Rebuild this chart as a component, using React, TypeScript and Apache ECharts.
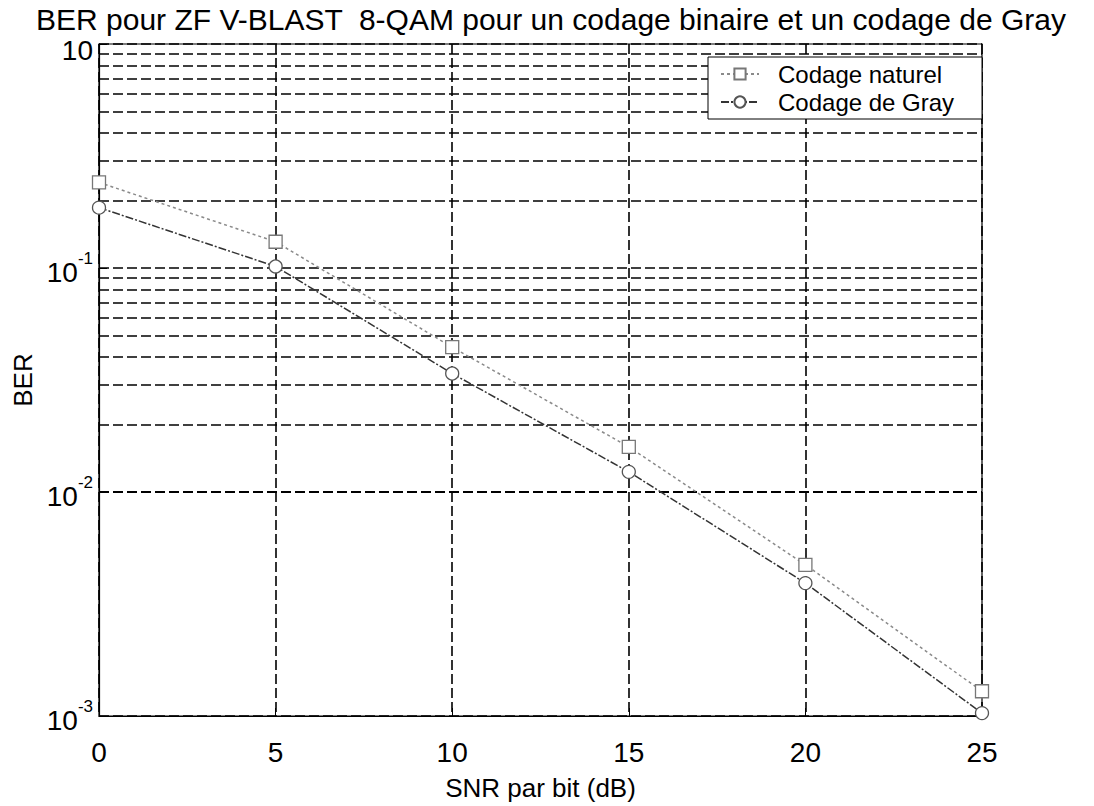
import React, { useEffect, useRef } from 'react';
import * as echarts from 'echarts';

const SNR = [0, 5, 10, 15, 20, 25];
const BER_NATUREL = [0.241, 0.131, 0.0443, 0.0159, 0.00473, 0.00129];
const BER_GRAY = [0.186, 0.1016, 0.0338, 0.0123, 0.00392, 0.00103];
const SERIES_NAMES = ['Codage naturel', 'Codage de Gray'];
const MINOR_GRID = [
  0.002, 0.003, 0.004, 0.005, 0.006, 0.007, 0.008, 0.009,
  0.02, 0.03, 0.04, 0.05, 0.06, 0.07, 0.08, 0.09,
  0.2, 0.3, 0.4, 0.5, 0.6, 0.7, 0.8, 0.9,
];
const TITLE = 'BER pour ZF V-BLAST  8-QAM pour un codage binaire et un codage de Gray';
const X_NAME = 'SNR par bit (dB)';
const Y_NAME = 'BER';

const FONT = "'Liberation Sans', Arial, sans-serif";

export default function App() {
  const ref = useRef<HTMLDivElement>(null);
  useEffect(() => {
    if (!ref.current) return;
    const chart = echarts.init(ref.current, null, { renderer: 'svg' });
    const gridLine = { color: '#000', width: 1.6, type: [10, 4] as any };
    chart.setOption({
      animation: false,
      backgroundColor: '#fff',
      textStyle: { fontFamily: FONT, color: '#000' },
      title: {
        text: TITLE,
        left: 551,
        textAlign: 'center',
        top: 8,
        padding: 0,
        textStyle: { fontFamily: FONT, fontSize: 30, lineHeight: 22, fontWeight: 'normal', color: '#000' },
      },
      legend: {
        data: SERIES_NAMES,
        orient: 'vertical',
        left: 708,
        top: 57,
        padding: [4, 4, 4, 12],
        itemGap: 2,
        itemWidth: 38,
        itemHeight: 14,
        backgroundColor: '#fff',
        borderColor: '#000',
        borderWidth: 1,
        textStyle: {
          fontFamily: FONT, fontSize: 24, lineHeight: 26, color: '#000',
          padding: [0, 0, 0, 14], width: 200,
        },
      },
      grid: {
        left: 99, right: 112, top: 44, bottom: 73,
        show: true, borderColor: '#000', borderWidth: 1.2, containLabel: false,
      },
      xAxis: {
        type: 'value',
        min: 0, max: 25, interval: 5,
        name: X_NAME,
        nameLocation: 'middle',
        nameGap: 59,
        nameTextStyle: { fontFamily: FONT, fontSize: 26, color: '#000' },
        axisLine: { show: true, onZero: false, lineStyle: { color: '#000', width: 1.2 } },
        axisTick: { show: true, inside: true, length: 8, lineStyle: { color: '#000' } },
        axisLabel: { fontFamily: FONT, fontSize: 28, color: '#000', margin: 22 },
        splitLine: { show: true, lineStyle: gridLine },
      },
      yAxis: {
        type: 'log',
        logBase: 10,
        min: 0.001, max: 1,
        splitNumber: 3,
        name: Y_NAME,
        nameLocation: 'middle',
        nameGap: 50,
        nameTextStyle: { fontFamily: FONT, fontSize: 26, color: '#000' },
        axisLine: { show: true, lineStyle: { color: '#000', width: 1.2 } },
        axisTick: { show: true, inside: true, length: 8, lineStyle: { color: '#000' } },
        axisLabel: {
          margin: 6,
          formatter: (v: number) => {
            const e = Math.round(Math.log10(v));
            if (e === 0) return '{c|10}';
            return '{b|10}{s|' + e + '}';
          },
          rich: {
            b: { fontFamily: FONT, fontSize: 28, lineHeight: 10, color: '#000', padding: [8, 0, 0, 0] },
            s: { fontFamily: FONT, fontSize: 17, lineHeight: 10, color: '#000', padding: [0, 0, 20, 0] },
            c: { fontFamily: FONT, fontSize: 28, lineHeight: 10, color: '#000', padding: [13, 0, 0, 0] },
          },
        },
        splitLine: { show: true, lineStyle: gridLine },
      },
      series: [
        {
          name: SERIES_NAMES[0],
          type: 'line',
          data: SNR.map((x, i) => [x, BER_NATUREL[i]]),
          symbol: 'rect',
          symbolSize: 13,
          lineStyle: { color: '#8a8a8a', width: 1.5, type: [3, 3] },
          itemStyle: { color: '#fff', borderColor: '#777', borderWidth: 1.3 },
          z: 5,
          markLine: {
            silent: true,
            symbol: ['none', 'none'],
            label: { show: false },
            lineStyle: { color: '#000', width: 1.6, type: [10, 4] },
            data: MINOR_GRID.map((v) => ({ yAxis: v })),
            z: 1,
          },
        },
        {
          name: SERIES_NAMES[1],
          type: 'line',
          data: SNR.map((x, i) => [x, BER_GRAY[i]]),
          symbol: 'circle',
          symbolSize: 13,
          lineStyle: { color: '#333', width: 1.5, type: [8, 2, 2, 2] },
          itemStyle: { color: '#fff', borderColor: '#555', borderWidth: 1.3 },
          z: 5,
        },
      ],
    });
    return () => chart.dispose();
  }, []);
  return (
    <div
      ref={ref}
      style={{ position: 'fixed', left: 0, top: 0, width: 1094, height: 806, background: '#fff' }}
    />
  );
}
